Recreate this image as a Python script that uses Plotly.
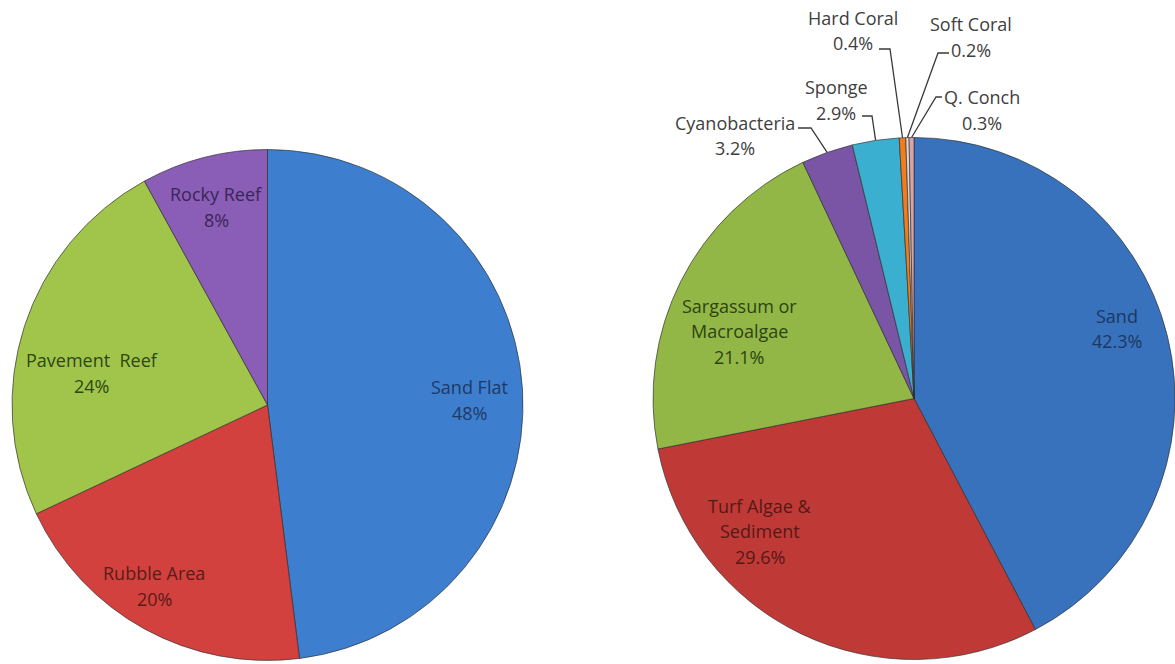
import math
import plotly.graph_objects as go

# ---------------- data ----------------
left_labels = ["Sand Flat", "Rubble Area", "Pavement Reef", "Rocky Reef"]
left_values = [48, 20, 24, 8]

right_labels = ["Sand", "Turf Algae & Sediment", "Sargassum or Macroalgae",
                "Cyanobacteria", "Sponge", "Hard Coral", "Soft Coral", "Q. Conch"]
right_values = [42.3, 29.6, 21.1, 3.2, 2.9, 0.4, 0.2, 0.3]

# display line breaks for long names
label_lines = {
    "Pavement Reef": ["Pavement  Reef"],
    "Turf Algae & Sediment": ["Turf Algae &", "Sediment"],
    "Sargassum or Macroalgae": ["Sargassum or", "Macroalgae"],
}

# ---------------- style ----------------
W, H = 1175, 664
FONT = "Open Sans"
FS = 18
LINE = 25.5

left_colors = ["#3E7ECE", "#D2413D", "#A1C54A", "#8A5DB6"]
left_text_colors = ["#1D3A66", "#5A1B19", "#2E4712", "#3A2656"]
right_colors = ["#3872BD", "#BF3A36", "#93B746", "#7A55A6", "#3BAFCF",
                "#F07C1C", "#DCD6D6", "#D9A3A8"]
right_text_colors = ["#1C3862", "#561816", "#2C4412"] + ["#404040"] * 5

# pie geometry in pixels (centre x, centre y, radius)
LEFT_PIE = (267.5, 405.0, 255.5)
RIGHT_PIE = (914.0, 398.5, 261.0)

# label block centres in pixels
left_label_pos = [(469, 400), (154, 586), (92, 373), (216, 207)]
right_label_pos = [(1117, 328.5), (760, 531), (739, 331), (735, 135.5),
                   (836, 100), (853, 30.5), (971, 37), (982, 110)]
# leader line start + elbow (pixels) for outside labels (index -> points)
leaders = {
    3: [(798, 128), (811, 128)],
    4: [(862, 116), (872, 116)],
    5: [(879, 49), (890, 49)],
    6: [(949, 53), (938, 53)],
    7: [(942, 97), (936, 97)],
}


def X(x):
    return x / W


def Y(y):
    return 1 - y / H


def domain(geom):
    cx, cy, r = geom
    return dict(x=[X(cx - r), X(cx + r)], y=[Y(cy + r), Y(cy - r)])


fig = go.Figure()
for labels, values, colors, geom in [
    (left_labels, left_values, left_colors, LEFT_PIE),
    (right_labels, right_values, right_colors, RIGHT_PIE),
]:
    fig.add_trace(go.Pie(
        labels=labels, values=values, sort=False, direction="clockwise",
        rotation=0, textinfo="none", hoverinfo="label+percent",
        marker=dict(colors=colors, line=dict(color="rgba(45,45,45,0.65)", width=1)),
        domain=domain(geom), showlegend=False,
    ))

annotations = []


def add_block(lines, pos, color):
    cx, cy = pos
    n = len(lines)
    for i, t in enumerate(lines):
        y = cy + (i - (n - 1) / 2) * LINE
        annotations.append(dict(
            x=X(cx), y=Y(y), xref="paper", yref="paper", text=t,
            showarrow=False, xanchor="center", yanchor="middle",
            font=dict(family=FONT, size=FS, color=color),
        ))


for name, v, pos, c in zip(left_labels, left_values, left_label_pos, left_text_colors):
    add_block(label_lines.get(name, [name]) + [f"{v:.0f}%"], pos, c)

for name, v, pos, c in zip(right_labels, right_values, right_label_pos, right_text_colors):
    add_block(label_lines.get(name, [name]) + [f"{v:.1f}%"], pos, c)

# leader lines to slice midpoints (computed from data)
shapes = []
total = sum(right_values)
cx, cy, R = RIGHT_PIE
cum = 0.0
for i, v in enumerate(right_values):
    mid = (cum + v / 2) / total * 2 * math.pi
    cum += v
    if i not in leaders:
        continue
    ex = cx + R * math.sin(mid)
    ey = cy - R * math.cos(mid)
    pts = leaders[i] + [(ex, ey)]
    path = "M " + " L ".join(f"{X(px):.5f},{Y(py):.5f}" for px, py in pts)
    shapes.append(dict(type="path", xref="paper", yref="paper", path=path,
                       line=dict(color="#3a3a3a", width=1.3)))

fig.update_layout(
    width=W, height=H, margin=dict(l=0, r=0, t=0, b=0),
    paper_bgcolor="white", plot_bgcolor="white",
    annotations=annotations, shapes=shapes,
)

fig.write_html(
    "out.html",
    config={"displayModeBar": False},
    post_script="document.body.style.margin='0';document.body.style.overflow='hidden';",
)
